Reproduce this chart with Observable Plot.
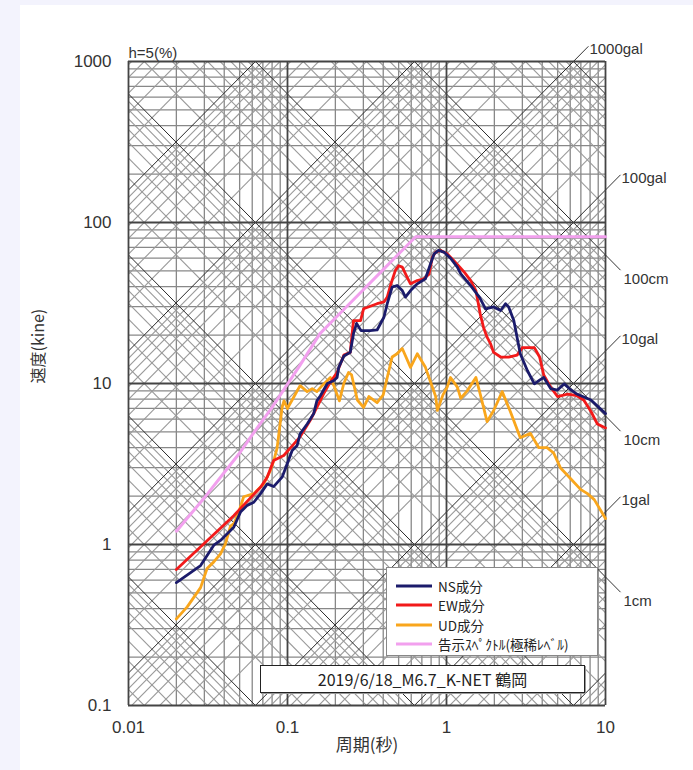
<!DOCTYPE html>
<html>
<head>
<meta charset="utf-8">
<script src="https://cdn.jsdelivr.net/npm/d3@7"></script>
<script src="https://cdn.jsdelivr.net/npm/@observablehq/plot@0.6"></script>
<style>
html, body { margin: 0; padding: 0; background: #f3f3fd; width: 693px; height: 770px; overflow: hidden; }
#panel { position: absolute; left: 20px; top: 5px; width: 673px; height: 765px; background: #fff; }
#legend { position: absolute; left: 366px; top: 562px; width: 212px; height: 89px; background: #fff; border: 1px solid #888; box-sizing: border-box; font-family: "Noto Sans CJK JP", sans-serif; font-size: 13.5px; color: #222; }
.row { position: absolute; left: 0; height: 19px; display: flex; align-items: center; }
.row svg { margin-left: 9px; margin-right: 6px; }
#title { position: absolute; left: 240px; top: 660px; width: 325px; height: 28px; background: #fff; border: 1px solid #222; box-shadow: 1px 1px 0 #999; box-sizing: border-box; font-family: "Noto Sans CJK JP", sans-serif; font-size: 16px; color: #222; display: flex; align-items: center; justify-content: center; }
</style>
</head>
<body>
<div id="panel"></div>
<script>
// ---- axes / ticks ----
const periodTicks = [0.01, 0.1, 1, 10];
const periodTickLabels = ["0.01", "0.1", "1", "10"];
const velocityTicks = [0.1, 1, 10, 100, 1000];
const velocityTickLabels = ["0.1", "1", "10", "100", "1000"];
const gridMultipliers = [2, 3, 4, 5, 6, 7, 8, 9];

// tripartite diagonal grid levels
const accelDecades = [0.01, 0.1, 1, 10, 100, 1000, 10000, 100000, 1000000]; // gal
const dispDecades = [0.00001, 0.0001, 0.001, 0.01, 0.1, 1, 10, 100, 1000];   // cm
const accelLabelLevels = [1, 10, 100, 1000];
const dispLabelLevels = [1, 10, 100];

// ---- series ----
const seriesNames = ["NS成分", "EW成分", "UD成分", "告示ｽﾍﾟｸﾄﾙ(極稀ﾚﾍﾞﾙ)"];
const seriesColors = ["#1b1b6b", "#f21a1a", "#f9a61c", "#f2a0ee"];

const nsPeriod = [0.02, 0.0284, 0.0344, 0.0379, 0.0459, 0.0506, 0.0558, 0.0614, 0.0677, 0.0745, 0.0818, 0.0925, 0.0996, 0.107, 0.115, 0.12, 0.133, 0.146, 0.153, 0.161, 0.178, 0.195, 0.205, 0.21, 0.226, 0.248, 0.26, 0.272, 0.29, 0.33, 0.366, 0.404, 0.424, 0.455, 0.489, 0.527, 0.552, 0.594, 0.655, 0.737, 0.794, 0.836, 0.89, 0.963, 1.06, 1.17, 1.23, 1.42, 1.62, 1.76, 1.98, 2.19, 2.35, 2.46, 2.65, 2.91, 3.23, 3.57, 3.85, 4.09, 4.52, 4.99, 5.5, 5.92, 6.6, 8.1, 10];
const nsVelocity = [0.58, 0.74, 0.99, 1.06, 1.28, 1.59, 1.75, 1.83, 2.07, 2.38, 2.29, 2.62, 3.17, 3.84, 4.12, 4.87, 5.6, 6.48, 7.8, 8.4, 10.0, 10.4, 10.9, 12.6, 14.8, 15.6, 20.4, 23.6, 21.3, 21.3, 21.5, 25.8, 31.3, 39.7, 40.6, 37.8, 34.4, 37.8, 41.6, 44.7, 55.4, 63.9, 67.1, 65.5, 60, 52.8, 48, 40.5, 34, 29.1, 29.9, 28.4, 31.3, 29.9, 24.6, 15.3, 12.0, 9.95, 10.5, 10.9, 9.3, 9.1, 9.95, 9.3, 8.6, 7.9, 6.5];

const ewPeriod = [0.02, 0.0298, 0.0459, 0.0677, 0.0745, 0.0818, 0.0947, 0.104, 0.12, 0.139, 0.153, 0.169, 0.186, 0.205, 0.226, 0.248, 0.26, 0.288, 0.301, 0.366, 0.404, 0.424, 0.444, 0.477, 0.5, 0.527, 0.566, 0.594, 0.655, 0.72, 0.776, 0.815, 0.855, 0.919, 1.01, 1.11, 1.29, 1.42, 1.53, 1.63, 1.71, 1.8, 1.89, 1.98, 2.19, 2.46, 2.78, 3.0, 3.57, 3.85, 4.09, 4.52, 4.99, 5.78, 6.6, 7.3, 8.1, 8.9, 10];
const ewVelocity = [0.70, 1.01, 1.51, 2.27, 2.62, 3.32, 3.57, 3.97, 4.66, 5.91, 7.1, 8.65, 10.2, 11.7, 15.0, 15.6, 24.6, 24.6, 29.1, 31.3, 32.1, 34.4, 40.6, 50.4, 53.9, 52.8, 45.6, 41.6, 43.6, 44.7, 47.7, 60.9, 65.5, 67.1, 63.9, 58.1, 49.3, 43.6, 37.8, 27, 22.3, 19.4, 17.7, 15.6, 14.6, 14.6, 15.0, 16.7, 16.7, 14.6, 11.3, 9.5, 8.3, 8.6, 8.4, 7.9, 6.7, 5.6, 5.3];

const udPeriod = [0.02, 0.0234, 0.0284, 0.0312, 0.0344, 0.0379, 0.0407, 0.0438, 0.046, 0.049, 0.053, 0.0614, 0.0708, 0.078, 0.082, 0.086, 0.0925, 0.095, 0.1, 0.11, 0.12, 0.133, 0.143, 0.153, 0.165, 0.186, 0.195, 0.212, 0.226, 0.242, 0.253, 0.275, 0.301, 0.325, 0.366, 0.4, 0.424, 0.455, 0.489, 0.527, 0.594, 0.655, 0.737, 0.8, 0.855, 0.876, 0.95, 1.01, 1.06, 1.17, 1.23, 1.35, 1.53, 1.63, 1.8, 1.98, 2.24, 2.52, 2.91, 3.37, 3.8, 4.29, 4.72, 5.2, 6.0, 6.97, 7.7, 8.5, 10];
const udVelocity = [0.345, 0.41, 0.54, 0.71, 0.78, 0.875, 1.01, 1.3, 1.35, 1.55, 1.98, 2.07, 2.38, 2.88, 3.32, 3.97, 7.1, 7.8, 7.0, 8.3, 9.7, 8.9, 9.3, 8.9, 9.7, 10.9, 9.8, 7.8, 10.0, 11.7, 11.3, 7.9, 7.1, 8.3, 7.6, 8.5, 10.9, 14.6, 15.3, 16.5, 12.6, 15.3, 12.6, 10.0, 8.3, 6.8, 8.5, 9.5, 10.9, 9.5, 8.1, 9.0, 10.9, 8.6, 5.8, 6.8, 8.9, 6.7, 4.6, 4.9, 4.0, 4.0, 3.7, 3.0, 2.58, 2.2, 2.07, 1.9, 1.45];

const codePeriod = [0.02, 0.03, 0.04, 0.05, 0.06, 0.08, 0.1, 0.12, 0.16, 0.2, 0.3, 0.4, 0.5, 0.64, 1, 2, 5, 10];
const codeVelocity = [1.21, 1.95, 2.8, 3.7, 4.8, 7.1, 9.9, 13.0, 20.4, 25.5, 38.2, 51, 63.7, 81.5, 81.5, 81.5, 81.5, 81.5];

// ---- build tables ----
const zip = (ts, vs) => ts.map((T, i) => ({T, V: vs[i]}));
const ns = zip(nsPeriod, nsVelocity);
const ew = zip(ewPeriod, ewVelocity);
const ud = zip(udPeriod, udVelocity);
const code = zip(codePeriod, codeVelocity);

const Tmin = periodTicks[0], Tmax = periodTicks[periodTicks.length - 1];
const Vmax = velocityTicks[velocityTicks.length - 1];
const TWO_PI = 2 * Math.PI;

const xMinor = periodTicks.slice(0, -1).flatMap(d => gridMultipliers.map(m => d * m));
const yMinor = velocityTicks.slice(0, -1).flatMap(d => gridMultipliers.map(m => d * m));

const accelLine = a => ({x1: Tmin, y1: a * Tmin / TWO_PI, x2: Tmax, y2: a * Tmax / TWO_PI});
const dispLine = d => ({x1: Tmin, y1: TWO_PI * d / Tmin, x2: Tmax, y2: TWO_PI * d / Tmax});
const accelMinor = accelDecades.flatMap(d => gridMultipliers.map(m => accelLine(d * m)));
const dispMinor = dispDecades.flatMap(d => gridMultipliers.map(m => dispLine(d * m)));
const diagMajor = [...accelDecades.map(accelLine), ...dispDecades.map(dispLine)];

const ext = Math.pow(10, 15 / 159); // leader extension (~15px)
const accelLeaders = accelLabelLevels.map(a => {
  const Te = Math.min(Tmax, TWO_PI * Vmax / a);
  const Ve = a * Te / TWO_PI;
  return {x1: Te, y1: Ve, x2: Te * ext, y2: Ve * ext, label: a + "gal"};
});
const dispLeaders = dispLabelLevels.map(d => {
  const Ve = TWO_PI * d / Tmax;
  return {x1: Tmax, y1: Ve, x2: Tmax * ext, y2: Ve / ext, label: d + "cm"};
});

const numFont = "'Liberation Sans', Arial, sans-serif";
const jpFont = "'Noto Sans CJK JP', sans-serif";

const chart = Plot.plot({
  width: 673,
  height: 765,
  marginLeft: 108,
  marginRight: 88,
  marginTop: 56,
  marginBottom: 65,
  style: {background: "#fff", fontFamily: numFont, fontSize: "17px", color: "#333", overflow: "visible"},
  x: {type: "log", domain: [Tmin, Tmax], ticks: periodTicks, tickFormat: d => periodTickLabels[periodTicks.indexOf(d)], tickSize: 0, tickPadding: 15, label: null},
  y: {type: "log", domain: [velocityTicks[0], Vmax], ticks: velocityTicks, tickFormat: d => velocityTickLabels[velocityTicks.indexOf(d)], tickSize: 0, tickPadding: 17, label: null},
  marks: [
    Plot.ruleX(xMinor, {stroke: "#888", strokeWidth: 1.3}),
    Plot.ruleY(yMinor, {stroke: "#888", strokeWidth: 1.3}),
    Plot.link(accelMinor, {x1: "x1", y1: "y1", x2: "x2", y2: "y2", stroke: "#999", strokeWidth: 1.1, clip: true}),
    Plot.link(dispMinor, {x1: "x1", y1: "y1", x2: "x2", y2: "y2", stroke: "#999", strokeWidth: 1.1, clip: true}),
    Plot.link(diagMajor, {x1: "x1", y1: "y1", x2: "x2", y2: "y2", stroke: "#2a2a2a", strokeWidth: 1, clip: true}),
    Plot.ruleX(periodTicks, {stroke: "#444", strokeWidth: 1.8}),
    Plot.ruleY(velocityTicks, {stroke: "#444", strokeWidth: 1.8}),
    Plot.link([...accelLeaders, ...dispLeaders], {x1: "x1", y1: "y1", x2: "x2", y2: "y2", stroke: "#333", strokeWidth: 1}),
    Plot.text(accelLeaders, {x: "x2", y: "y2", text: "label", textAnchor: "start", dx: 1, dy: 3, fontSize: 15, fill: "#333"}),
    Plot.text(dispLeaders, {x: "x2", y: "y2", text: "label", textAnchor: "start", dx: 3, dy: 9, fontSize: 15, fill: "#333"}),
    Plot.line(code, {x: "T", y: "V", stroke: seriesColors[3], strokeWidth: 3}),
    Plot.line(ud, {x: "T", y: "V", stroke: seriesColors[2], strokeWidth: 2.8}),
    Plot.line(ew, {x: "T", y: "V", stroke: seriesColors[1], strokeWidth: 2.8}),
    Plot.line(ns, {x: "T", y: "V", stroke: seriesColors[0], strokeWidth: 2.8}),
    Plot.text(["h=5(%)"], {frameAnchor: "top-left", text: d => d, textAnchor: "start", dy: -14, fontSize: 15, fill: "#333"}),
    Plot.text(["速度(kine)"], {frameAnchor: "left", text: d => d, rotate: -90, dx: -90, fontSize: 16, fontFamily: jpFont, fill: "#333"}),
    Plot.text(["周期(秒)"], {frameAnchor: "bottom", text: d => d, dy: 45, fontSize: 17, fontFamily: jpFont, fill: "#333"})
  ]
});

const panel = document.getElementById("panel");
panel.appendChild(chart);

// legend
const legend = document.createElement("div");
legend.id = "legend";
seriesNames.forEach((name, i) => {
  const row = document.createElement("div");
  row.className = "row";
  row.style.top = (8 + i * 19.5) + "px";
  row.innerHTML = `<svg width="36" height="6"><line x1="0" y1="3" x2="36" y2="3" stroke="${seriesColors[i]}" stroke-width="3"/></svg><span>${name}</span>`;
  legend.appendChild(row);
});
panel.appendChild(legend);

const title = document.createElement("div");
title.id = "title";
title.textContent = "2019/6/18_M6.7_K-NET 鶴岡";
panel.appendChild(title);
</script>
</body>
</html>
